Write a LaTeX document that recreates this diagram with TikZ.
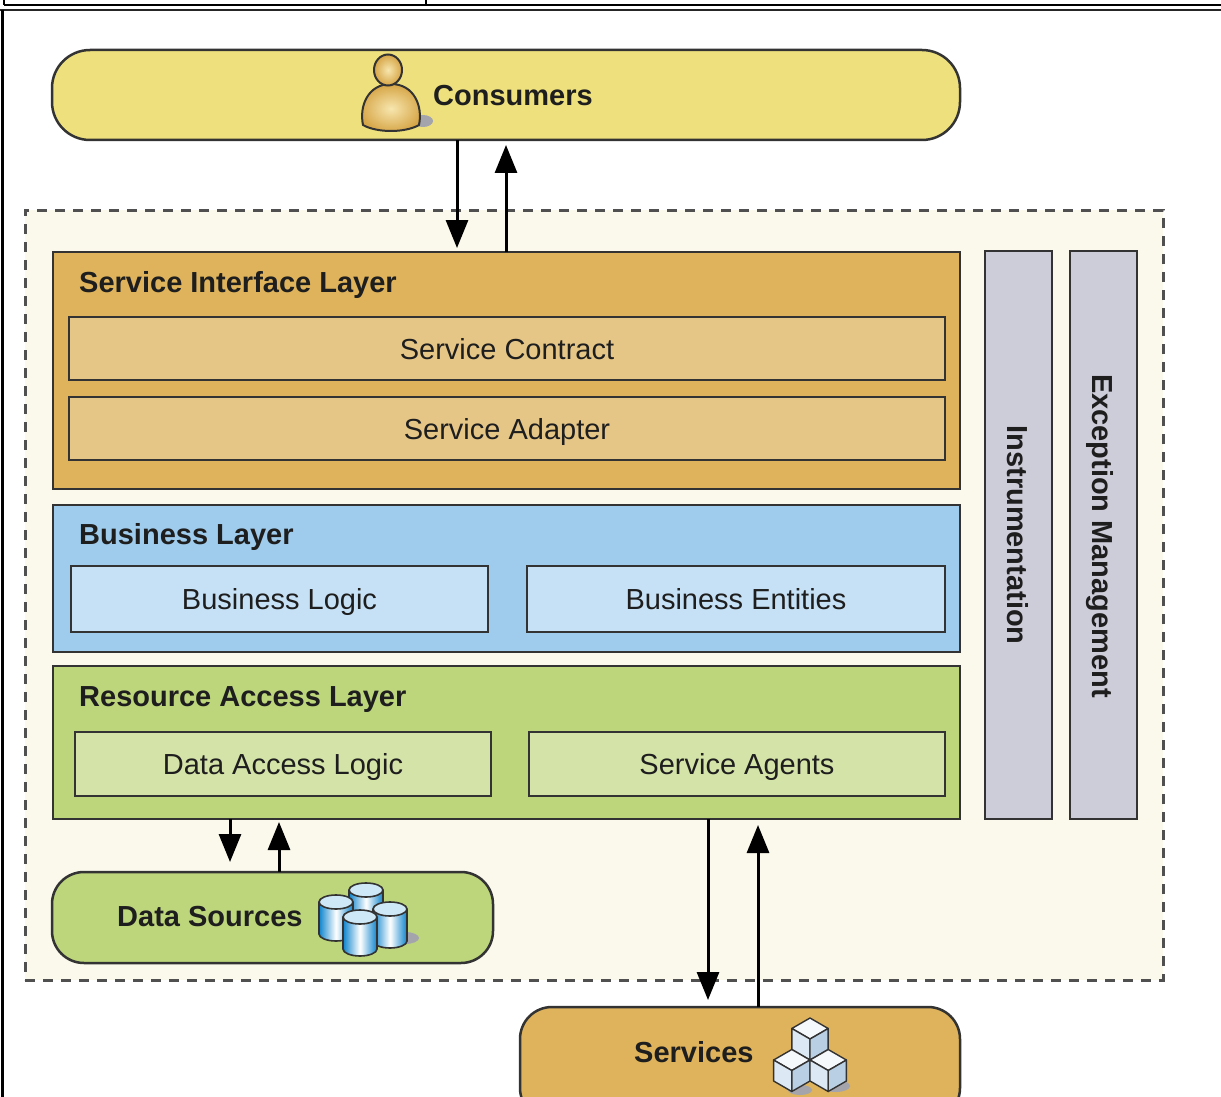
\documentclass[tikz,border=0pt]{standalone}
\usepackage{fontspec}
\setmainfont{Liberation Sans}
\usetikzlibrary{arrows.meta,calc,shapes.geometric}
\definecolor{consy}{HTML}{EEE07C}
\definecolor{outerbg}{HTML}{FBF9EC}
\definecolor{dashc}{HTML}{505050}
\definecolor{linec}{HTML}{333333}
\definecolor{silc}{HTML}{DEB35B}
\definecolor{silin}{HTML}{E6C687}
\definecolor{blc}{HTML}{9FCBEC}
\definecolor{blin}{HTML}{C6E1F5}
\definecolor{ralc}{HTML}{BDD67C}
\definecolor{ralin}{HTML}{D4E3A8}
\definecolor{cross}{HTML}{CDCCD9}
\definecolor{txt}{HTML}{1E1E1E}
\definecolor{skinA}{HTML}{F7E6AE}
\definecolor{skinB}{HTML}{D6A546}
\definecolor{cylA}{HTML}{0E84CC}
\definecolor{cylTop}{HTML}{CFE8F7}
\definecolor{cubeT}{HTML}{F6F9FC}
\definecolor{cubeL}{HTML}{DCE8F3}
\definecolor{cubeR}{HTML}{B9CFE3}
\definecolor{shad}{HTML}{A4A4AC}
\newcommand\dgreg{\fontsize{29}{32}\selectfont}
\newcommand\dgbold{\fontsize{29}{32}\selectfont\bfseries}
\newcommand\dgcyl[2]{%
  \shade[left color=cylA, right color=cylA, middle color=white]
    (#1-17,#2) -- (#1-17,#2+32) arc[start angle=180, end angle=0, x radius=17, y radius=7] -- (#1+17,#2) -- cycle;
  \draw[line width=1.6pt, color=linec]
    (#1-17,#2) -- (#1-17,#2+32) arc[start angle=180, end angle=0, x radius=17, y radius=7] -- (#1+17,#2);
  \filldraw[fill=cylTop, draw=linec, line width=1.6pt] (#1,#2) ellipse[x radius=17, y radius=7];
}
\newcommand\dgcube[3]{%
  \filldraw[fill=cubeT, draw=linec, line width=1.4pt, line join=round]
    (#1,#2) -- (#1+0.866*#3,#2+0.5*#3) -- (#1,#2+#3) -- (#1-0.866*#3,#2+0.5*#3) -- cycle;
  \filldraw[fill=cubeL, draw=linec, line width=1.4pt, line join=round]
    (#1-0.866*#3,#2+0.5*#3) -- (#1,#2+#3) -- (#1,#2+2*#3) -- (#1-0.866*#3,#2+1.5*#3) -- cycle;
  \filldraw[fill=cubeR, draw=linec, line width=1.4pt, line join=round]
    (#1,#2+#3) -- (#1+0.866*#3,#2+0.5*#3) -- (#1+0.866*#3,#2+1.5*#3) -- (#1,#2+2*#3) -- cycle;
}
\begin{document}
\begin{tikzpicture}[x=1pt,y=-1pt,
  box/.style={draw=linec, line width=2.5pt, inner sep=0pt, outer sep=0pt, rectangle},
  rbox/.style={box, rounded corners=34pt},
  sub/.style={box, font=\dgreg, text=txt, text height=21pt, text depth=0pt},
  ttl/.style={anchor=base west, font=\dgbold, text=txt, inner sep=0pt},
  lbl/.style={font=\dgbold, text=txt, inner sep=0pt, text height=21pt, text depth=0pt},
  vert/.style={box, fill=cross, minimum width=67pt, minimum height=568pt},
  vtext/.style={rotate=-90, font=\dgbold, text=txt, inner sep=0pt, text height=21pt, text depth=0pt},
  arr/.style={line width=3pt, color=black, -{Triangle[width=22pt,length=28pt]}}]
\useasboundingbox (0,0) rectangle (1221,1097);
\clip (0,0) rectangle (1221,1097);
\fill[white] (0,0) rectangle (1221,1097);
% page frame
\draw[line width=2.5pt] (3.5,5) -- (1221,5);
\draw[line width=2pt] (3.5,0) -- (3.5,5);
\draw[line width=2.5pt] (426,0) -- (426,5);
\draw[line width=2.5pt, color=black!85] (0,10) -- (1221,10);
\draw[line width=3pt] (2,10) -- (2,1097);
% outer container
\node[draw=dashc, dash pattern=on 10pt off 8pt, line width=3pt, fill=outerbg,
      minimum width=1138pt, minimum height=770pt, inner sep=0pt, outer sep=0pt] (outer) at (594,595) {};
% consumers
\node[rbox, fill=consy, rounded corners=38pt, minimum width=908pt, minimum height=90pt] (cons) at (506,95) {};
\node[lbl, anchor=west] (consl) at (433,95) {Consumers};
% person icon
\fill[shad] (423,121) ellipse[x radius=10, y radius=6];
\shade[inner color=skinA, outer color=skinB, draw=linec, line width=2pt]
  (363,125) .. controls (359,106) and (368,84) .. (391,84) .. controls (414,84) and (423,106) .. (419,125)
  .. controls (405,133) and (377,133) .. (363,125) -- cycle;
\shade[inner color=skinA, outer color=skinB, draw=linec, line width=2pt] (388,70) ellipse[x radius=14, y radius=15.5];
% service interface layer
\node[box, fill=silc, minimum width=907pt, minimum height=237pt] (sil) at (506.5,370.5) {};
\node[ttl] (silt) at (79,292) {Service Interface Layer};
\node[sub, fill=silin, minimum width=876pt, minimum height=63pt] (sc) at (507,348.5) {Service Contract};
\node[sub, fill=silin, minimum width=876pt, minimum height=63pt] (sa) at (507,428.5) {Service Adapter};
% business layer
\node[box, fill=blc, minimum width=907pt, minimum height=147pt] (bl) at (506.5,578.5) {};
\node[ttl] (blt) at (79,544) {Business Layer};
\node[sub, fill=blin, minimum width=417pt, minimum height=66pt] (blog) at (279.5,599) {Business Logic};
\node[sub, fill=blin, minimum width=418pt, minimum height=66pt] (bent) at (736,599) {Business Entities};
% resource access layer
\node[box, fill=ralc, minimum width=907pt, minimum height=153pt] (ral) at (506.5,742.5) {};
\node[ttl] (ralt) at (79,706) {Resource Access Layer};
\node[sub, fill=ralin, minimum width=416pt, minimum height=64pt] (dal) at (283,764) {Data Access Logic};
\node[sub, fill=ralin, minimum width=416pt, minimum height=64pt] (sag) at (737,764) {Service Agents};
% cross-cutting
\node[vert] (inst) at (1018.5,535) {};
\node[vtext] (instt) at (1018,535) {Instrumentation};
\node[vert] (exc) at (1103.5,535) {};
\node[vtext] (exct) at (1103,536) {Exception Management};
% data sources
\node[rbox, fill=ralc, rounded corners=32pt, minimum width=441pt, minimum height=91pt] (ds) at (272.5,917.5) {};
\node[lbl, anchor=west] (dsl) at (117,916) {Data Sources};
\fill[shad] (405,938) ellipse[x radius=14, y radius=6];
\dgcyl{366}{890}
\dgcyl{336}{902}
\dgcyl{390}{909}
\dgcyl{360}{917}
% services
\node[rbox, fill=silc, rounded corners=32pt, minimum width=440pt, minimum height=113pt] (svc) at (740,1063.5) {};
\node[lbl, anchor=west] (svcl) at (634,1052) {Services};
\fill[shad] (836,1086) ellipse[x radius=14, y radius=6];
\fill[shad] (800,1090) ellipse[x radius=12, y radius=5];
\dgcube{810}{1018}{21}
\dgcube{791.8}{1049.5}{21}
\dgcube{828.2}{1049.5}{21}
% connectors
\coordinate (xa) at (457,0);
\coordinate (xb) at (506,0);
\coordinate (xc) at (230,0);
\coordinate (xd) at (279,0);
\coordinate (xe) at (708,0);
\coordinate (xf) at (758,0);
\draw[arr, shorten >=4pt] (cons.south -| xa) -- (sil.north -| xa);
\draw[arr, shorten >=5pt] (sil.north -| xb) -- (cons.south -| xb);
\draw[arr, shorten >=10pt] (ral.south -| xc) -- (ds.north -| xc);
\draw[arr, shorten >=3pt] (ds.north -| xd) -- (ral.south -| xd);
\draw[arr, shorten >=7pt] (ral.south -| xe) -- (svc.north -| xe);
\draw[arr, shorten >=6pt] (svc.north -| xf) -- (ral.south -| xf);
\end{tikzpicture}
\end{document}
